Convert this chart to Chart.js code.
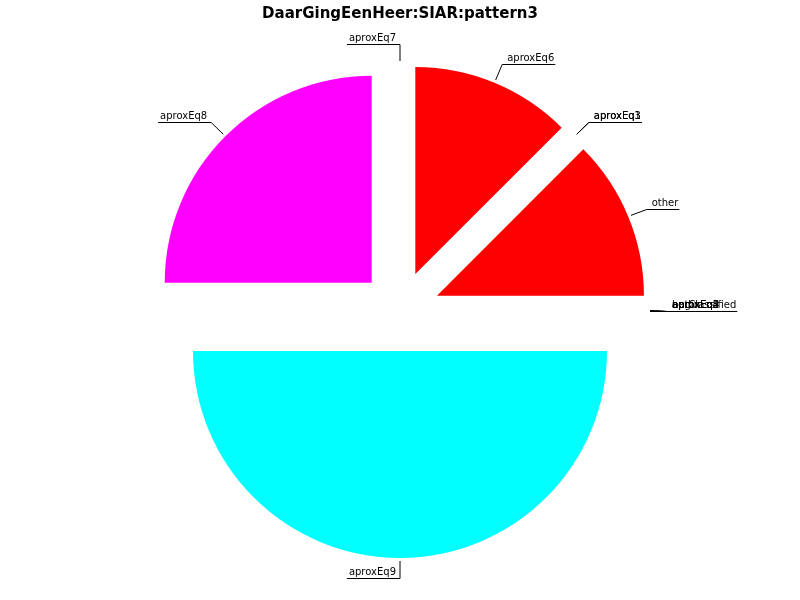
<!DOCTYPE html>
<html><head><meta charset="utf-8">
<script src="https://cdn.jsdelivr.net/npm/chart.js@4/dist/chart.umd.min.js"></script>
<style>html,body{margin:0;padding:0;background:#fff}canvas{display:block}</style>
</head><body>
<canvas id="c" width="800" height="600"></canvas>
<script>
const chartTitle = "DaarGingEenHeer:SIAR:pattern3";
const categories = ["aproxEq6", "aproxEq1", "aproxEq3", "other", "aproxEq2", "aproxEq4", "aproxEq5", "begin", "end", "notClassified", "aproxEq9", "aproxEq8", "aproxEq7"];
const values = [1, 0, 0, 1, 0, 0, 0, 0, 0, 0, 4, 2, 0];
const sliceColors = ["#ff0000", "#ff0000", "#ff0000", "#ff0000", "#ffff00", "#ffff00", "#ffff00", "#ffff00", "#ffff00", "#ffff00", "#00ffff", "#ff00ff", "#ff00ff"];

const EXPLODE = 40;
const RADIUS = 207;

const explodePlugin = {
  id: 'explode',
  beforeDatasetDraw(chart, args) {
    const meta = chart.getDatasetMeta(args.index);
    meta.data.forEach(arc => {
      const mid = (arc.startAngle + arc.endAngle) / 2;
      arc._ox = arc.x; arc._oy = arc.y;
      arc.x = arc._ox + Math.cos(mid) * EXPLODE;
      arc.y = arc._oy + Math.sin(mid) * EXPLODE;
    });
  },
  afterDatasetDraw(chart, args) {
    const meta = chart.getDatasetMeta(args.index);
    meta.data.forEach(arc => { arc.x = arc._ox; arc.y = arc._oy; });
  }
};

const labelPlugin = {
  id: 'pieLabels',
  afterDraw(chart) {
    const ctx = chart.ctx;
    const meta = chart.getDatasetMeta(0);
    const labels = chart.data.labels;
    ctx.save();
    ctx.font = '10px "DejaVu Sans"';
    ctx.fillStyle = '#000';
    ctx.strokeStyle = '#000';
    ctx.lineWidth = 1;
    meta.data.forEach((arc, i) => {
      const mid = (arc.startAngle + arc.endAngle) / 2;
      const dx = Math.cos(mid), dy = Math.sin(mid);
      const cx = arc.x + dx * EXPLODE, cy = arc.y + dy * EXPLODE;
      const R = arc.outerRadius;
      const p = [cx + dx * (R + 3), cy + dy * (R + 3)];
      const e = [cx + dx * (R + 20), cy + dy * (R + 20)];
      const ey = Math.round(e[1]) + 0.5;
      const right = dx > 1e-6;
      const w = ctx.measureText(labels[i]).width;
      let tx, lx2;
      if (right) { tx = e[0] + 5; lx2 = tx + w + 1; ctx.textAlign = 'left'; }
      else { tx = e[0] - 4; lx2 = tx - w - 2; ctx.textAlign = 'right'; }
      ctx.beginPath();
      ctx.moveTo(p[0], p[1]);
      ctx.lineTo(e[0], ey);
      ctx.lineTo(lx2, ey);
      ctx.stroke();
      ctx.textBaseline = 'alphabetic';
      ctx.fillText(labels[i], tx, ey - 4);
    });
    ctx.font = 'bold 15px "DejaVu Sans"';
    ctx.textAlign = 'center';
    ctx.textBaseline = 'alphabetic';
    ctx.fillText(chartTitle, 400, 18);
    ctx.restore();
  }
};

new Chart(document.getElementById('c'), {
  type: 'pie',
  data: {
    labels: categories,
    datasets: [{
      data: values,
      backgroundColor: sliceColors,
      borderWidth: 0
    }]
  },
  options: {
    responsive: false,
    animation: false,
    radius: RADIUS,
    layout: { padding: { top: 22, bottom: 0, left: 0, right: 0 } },
    plugins: { legend: { display: false }, tooltip: { enabled: false }, title: { display: false } }
  },
  plugins: [explodePlugin, labelPlugin]
});
</script>
</body></html>
